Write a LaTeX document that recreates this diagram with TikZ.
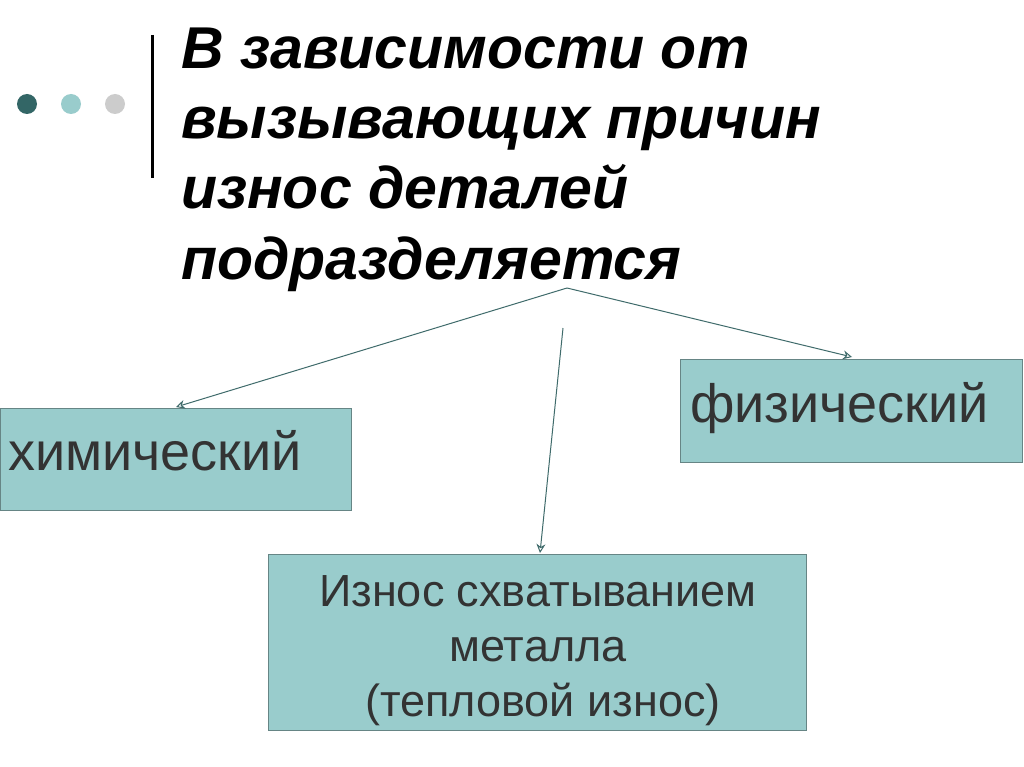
\documentclass[tikz,border=0pt]{standalone}
\usepackage{fontspec}
\setmainfont{Liberation Sans}
\begin{document}
\begin{tikzpicture}[x=1pt,y=-1pt,
 box/.style={draw=black!60!teal!60,fill=fillc,line width=0.8pt,inner sep=0pt},
 boxtext/.style={text=txtc,inner sep=0pt},
 arr/.style={draw=arrc,line width=1pt,-{Stealth[length=9pt,width=9pt,open]}}]
\usetikzlibrary{arrows.meta}
\definecolor{fillc}{HTML}{99CCCC}
\definecolor{arrc}{HTML}{3F6B6B}
\definecolor{dotA}{HTML}{336666}
\definecolor{dotC}{HTML}{CCCCCC}
\definecolor{txtc}{HTML}{333333}
\useasboundingbox (0,0) rectangle (1024,767);
\fill[white] (0,0) rectangle (1024,767);
\fill[dotA] (27,104) circle (10);
\fill[fillc] (71,104) circle (10);
\fill[dotC] (115,104) circle (10);
\draw[line width=3pt] (152,35) -- (152,178);
\node[anchor=base west,align=left,font=\fontsize{59}{70}\selectfont\bfseries\itshape,inner sep=0pt] (title) at (181,69)
 {В зависимости от};
\node[anchor=base west,font=\fontsize{59}{70}\selectfont\bfseries\itshape,inner sep=0pt] (t2) at (181,139) {вызывающих причин};
\node[anchor=base west,font=\fontsize{59}{70}\selectfont\bfseries\itshape,inner sep=0pt] (t3) at (181,209) {износ деталей};
\node[anchor=base west,font=\fontsize{59}{70}\selectfont\bfseries\itshape,inner sep=0pt] (t4) at (181,279) {подразделяется};
\node[box,minimum width=351,minimum height=102,anchor=north west] (chem) at (0,408) {};
\node[boxtext,anchor=base west,font=\fontsize{54}{60}\selectfont] (chemt) at (8,470) {химический};
\node[box,minimum width=342,minimum height=103,anchor=north west] (phys) at (680,359) {};
\node[boxtext,anchor=base west,font=\fontsize{54}{60}\selectfont] (physt) at (690,422) {физический};
\node[box,minimum width=538,minimum height=176,anchor=north west] (seiz) at (268,554) {};
\node[boxtext,anchor=base,font=\fontsize{45}{50}\selectfont] (s1) at (538,606) {Износ схватыванием};
\node[boxtext,anchor=base,font=\fontsize{45}{50}\selectfont] (s2) at (538,661) {металла};
\node[boxtext,anchor=base,font=\fontsize{45}{50}\selectfont] (s3) at (543,716) {(тепловой износ)};
\coordinate (src) at (567,288);
\coordinate (src2) at (563,328);
\coordinate (a1) at (176,407);
\coordinate (a2) at (852,357);
\coordinate (a3) at (540,553);
\draw[arr] (src) -- (a1);
\draw[arr] (src) -- (a2);
\draw[arr] (src2) -- (a3);
\end{tikzpicture}
\end{document}
